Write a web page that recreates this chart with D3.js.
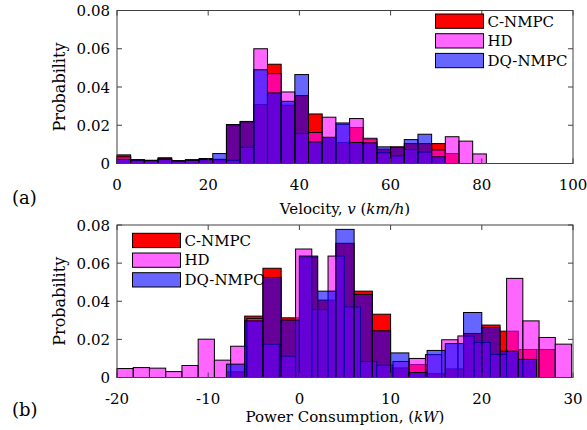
<!DOCTYPE html>
<html>
<head>
<meta charset="utf-8">
<script src="https://cdn.jsdelivr.net/npm/d3@7/dist/d3.min.js"></script>
<style>
  body { margin: 0; background: #fff; }
  text { font-family: "DejaVu Serif", serif; font-size: 15px; fill: #000; }
</style>
</head>
<body>
<svg id="fig" width="587" height="430"></svg>
<script>
// ---- data ----
var seriesNames = ["C-NMPC", "HD", "DQ-NMPC"];

// (a) velocity histogram, shared bins of 3 km/h starting at 0
var velBinStart = 0, velBinWidth = 3;
var velCNMPC = [0.0045, 0.0020, 0.0017, 0.0030, 0.0015, 0.0020, 0.0026, 0.0022, 0.0204, 0.0220,
                0.0308, 0.0519, 0.0305, 0.0355, 0.0259, 0.0136, 0.0110, 0.0188, 0.0126, 0.0075,
                0.0087, 0.0104, 0.0104, 0.0104, 0.0052, 0, 0];
var velHD    = [0.0035, 0.0018, 0.0015, 0.0025, 0.0013, 0.0017, 0.0020, 0.0020, 0.0017, 0.0085,
                0.0600, 0.0470, 0.0374, 0.0157, 0.0162, 0.0242, 0.0205, 0.0235, 0.0132, 0.0056,
                0.0040, 0.0073, 0.0060, 0.0071, 0.0140, 0.0117, 0.0050];
var velDQ    = [0.0022, 0.0018, 0.0015, 0.0022, 0.0013, 0.0017, 0.0022, 0.0052, 0.0202, 0.0218,
                0.0490, 0.0369, 0.0325, 0.0465, 0.0113, 0.0137, 0.0212, 0.0110, 0.0108, 0.0087,
                0.0085, 0.0125, 0.0153, 0.0035, 0, 0, 0];

// (b) power histogram, each series has its own bins
var powCNMPCStart = -8, powCNMPCWidth = 2;
var powCNMPC = [0.0030, 0.0322, 0.0573, 0.0313, 0.0632, 0.0406, 0.0704, 0.0453, 0.0332,
                0.0050, 0.0068, 0.0020, 0.0045, 0.0231, 0.0275, 0.0243, 0.0147, 0.0147];
var powHDStart = -20, powHDWidth = 1.78;
var powHD    = [0.0047, 0.0052, 0.0049, 0.0031, 0.0063, 0.0201, 0.0091, 0.0164, 0.0310, 0.0175,
                0.0112, 0.0674, 0.0357, 0.0637, 0.0370, 0.0084, 0.0065, 0.0084, 0.0100, 0.0120,
                0.0198, 0.0218, 0.0184, 0.0121, 0.0520, 0.0297, 0.0210, 0.0175];
var powDQStart = -8, powDQWidth = 2;
var powDQ    = [0.0070, 0.0297, 0.0525, 0.0301, 0.0637, 0.0453, 0.0777, 0.0436, 0.0245,
                0.0129, 0.0026, 0.0142, 0.0178, 0.0341, 0.0262, 0.0138, 0.0095];

var yTicks = [0, 0.02, 0.04, 0.06, 0.08];
var velTicks = [0, 20, 40, 60, 80, 100];
var powTicks = [-20, -10, 0, 10, 20, 30];

// red drawn solid, the other two see-through (matlab FaceAlpha 0.6)
var fills = ["#ff0000", "#ff00ff", "#0000ff"];
var alphas = [1, 0.6, 0.6];

var svg = d3.select("#fig");

function toBins(values, start, width) {
    return values.map(function(v, i) {
        return {x0: start + i * width, x1: start + (i + 1) * width, v: v};
    });
}

function drawPanel(p) {
    var x = d3.scaleLinear().domain(p.xDomain).range([117, 573]);
    var y = d3.scaleLinear().domain([0, 0.08]).range([p.bottom, p.top]);
    var g = svg.append("g");

    // bars, one layer per series in drawing order
    p.series.forEach(function(s, k) {
        g.append("g")
            .selectAll("rect")
            .data(s.filter(function(d) { return d.v > 0; }))
            .enter().append("rect")
            .attr("x", function(d) { return x(d.x0); })
            .attr("width", function(d) { return x(d.x1) - x(d.x0); })
            .attr("y", function(d) { return y(d.v); })
            .attr("height", function(d) { return y(0) - y(d.v); })
            .attr("fill", fills[k])
            .attr("fill-opacity", alphas[k])
            .attr("stroke", "#000")
            .attr("stroke-width", 1);
    });

    // box + inward ticks on all sides
    g.append("rect")
        .attr("x", 117).attr("y", p.top)
        .attr("width", 456).attr("height", p.bottom - p.top)
        .attr("fill", "none").attr("stroke", "#404040").attr("stroke-width", 1);

    var tk = 5;
    p.xTicks.forEach(function(t) {
        g.append("line").attr("x1", x(t)).attr("x2", x(t))
            .attr("y1", p.bottom).attr("y2", p.bottom - tk).attr("stroke", "#404040");
        g.append("line").attr("x1", x(t)).attr("x2", x(t))
            .attr("y1", p.top).attr("y2", p.top + tk).attr("stroke", "#404040");
        g.append("text").attr("x", x(t)).attr("y", p.bottom + 26)
            .attr("text-anchor", "middle").text(t);
    });
    yTicks.forEach(function(t) {
        g.append("line").attr("x1", 117).attr("x2", 117 + tk)
            .attr("y1", y(t)).attr("y2", y(t)).attr("stroke", "#404040");
        g.append("line").attr("x1", 573).attr("x2", 573 - tk)
            .attr("y1", y(t)).attr("y2", y(t)).attr("stroke", "#404040");
        g.append("text").attr("x", 110).attr("y", y(t)).attr("dy", "0.38em")
            .attr("text-anchor", "end").text(t === 0 ? "0" : t.toFixed(2));
    });

    g.append("text")
        .attr("transform", "translate(65," + ((p.top + p.bottom) / 2) + ") rotate(-90)")
        .attr("text-anchor", "middle").style("font-size", "16px").text("Probability");

    var xl = g.append("text").attr("x", 345).attr("y", p.labelY).attr("text-anchor", "middle");
    p.xLabel.forEach(function(part) {
        xl.append("tspan").attr("font-style", part[1] ? "italic" : null).text(part[0]);
    });

    g.append("text").attr("x", 12).attr("y", p.letterY)
        .style("font-size", "18px").text(p.letter);

    // legend
    var lg = g.append("g").attr("transform", "translate(" + p.legend[0] + "," + p.legend[1] + ")");
    seriesNames.forEach(function(name, k) {
        lg.append("rect").attr("x", 0).attr("y", k * 19.7)
            .attr("width", 48).attr("height", 14.3)
            .attr("fill", fills[k]).attr("fill-opacity", alphas[k])
            .attr("stroke", "#000").attr("stroke-width", 1);
        lg.append("text").attr("x", 52).attr("y", k * 19.7 + 12.5).text(name);
    });
}

drawPanel({
    top: 10.5, bottom: 163.5, xDomain: [0, 100], xTicks: velTicks, letter: "(a)",
    legend: [435.5, 14], labelY: 214, letterY: 204,
    xLabel: [["Velocity, "], ["v", true], [" ("], ["km/h", true], [")"]],
    series: [toBins(velCNMPC, velBinStart, velBinWidth),
             toBins(velHD, velBinStart, velBinWidth),
             toBins(velDQ, velBinStart, velBinWidth)]
});

drawPanel({
    top: 225, bottom: 377.5, xDomain: [-20, 30], xTicks: powTicks, letter: "(b)",
    legend: [132.5, 233.3], labelY: 422, letterY: 416,
    xLabel: [["Power Consumption, ("], ["kW", true], [")"]],
    series: [toBins(powCNMPC, powCNMPCStart, powCNMPCWidth),
             toBins(powHD, powHDStart, powHDWidth),
             toBins(powDQ, powDQStart, powDQWidth)]
});
</script>
</body>
</html>
